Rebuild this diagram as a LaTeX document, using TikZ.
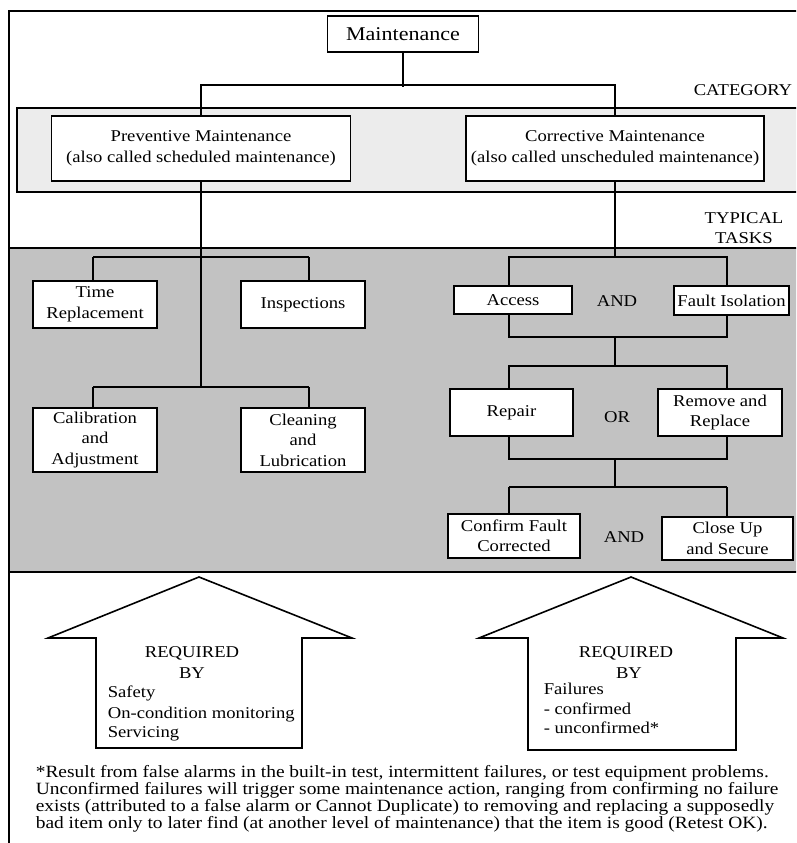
\documentclass[tikz,border=0pt]{standalone}
\usepackage{fontspec}
\setmainfont{Liberation Serif}[FakeStretch=1.13]
\definecolor{catfill}{RGB}{236,236,236}
\definecolor{taskfill}{RGB}{194,194,194}
\begin{document}
\begin{tikzpicture}[x=1pt,y=-1pt,line width=1.6pt,
  box/.style={draw=black,fill=white,line width=1.6pt,inner sep=0pt,align=center,
              font=\fontsize{16.5}{20.5}\selectfont},
  lbl/.style={inner sep=0pt,align=center,font=\fontsize{16.5}{20}\selectfont},
  item/.style={inner sep=0pt,anchor=base west,font=\fontsize{16.5}{20}\selectfont},
  note/.style={inner sep=0pt,anchor=base west,font=\fontsize{17.2}{17}\selectfont},
  wire/.style={draw=black,line width=1.6pt},
  bigarrow/.style={draw=black,fill=white,line width=1.6pt,line join=miter}]
\useasboundingbox (0,0) rectangle (796,843);
\clip (0,0) rectangle (796,843);
\fill[white] (0,0) rectangle (796,843);

% section bands
\filldraw[fill=catfill,line width=1.6pt] (17,108) rectangle (820,192);
\filldraw[fill=taskfill,line width=1.6pt] (9,248) rectangle (820,572);
\draw[line width=1.6pt] (9,860) -- (9,11) -- (820,11);

% side labels
\node[lbl] (catlbl) at (743,90) {CATEGORY};
\node[lbl] (tasklbl) at (744,228) {TYPICAL\\TASKS};

% top level
\node[box,minimum width=151,minimum height=36,font=\fontsize{19.5}{22}\selectfont] (mnt) at (403,34) {Maintenance};
\node[box,minimum width=299,minimum height=65] (pm) at (201,148.5)
  {Preventive Maintenance\\(also called scheduled maintenance)};
\node[box,minimum width=298,minimum height=65] (cm) at (615,148.5)
  {Corrective Maintenance\\(also called unscheduled maintenance)};

\draw[wire] (mnt.south) -- ++(0,34);
\draw[wire] (pm.north) -- ++(0,-30) -| (cm.north);

% preventive tasks
\coordinate (pa1) at (93,257);
\coordinate (pa2) at (309,257);
\coordinate (pb1) at (93,387);
\coordinate (pb2) at (309,387);
\draw[wire] (pm.south) -- (pm.south |- pb1);
\draw[wire] (pa1) -- (pa2);
\draw[wire] (pb1) -- (pb2);

\node[box,minimum width=124,minimum height=47] (tr) at (95,304.5) {Time\\Replacement};
\node[box,minimum width=124,minimum height=47] (ins) at (303,304.5) {Inspections};
\node[box,minimum width=124,minimum height=64] (cal) at (95,440) {Calibration\\and\\Adjustment};
\node[box,minimum width=124,minimum height=64] (cln) at (303,440) {Cleaning\\and\\Lubrication};

\draw[wire] (pa1) -- (pa1 |- tr.north);
\draw[wire] (pa2) -- (pa2 |- ins.north);
\draw[wire] (pb1) -- (pb1 |- cal.north);
\draw[wire] (pb2) -- (pb2 |- cln.north);

% corrective tasks
\coordinate (ca1) at (509,257);
\coordinate (ca2) at (727,337);
\coordinate (cb1) at (509,366);
\coordinate (cb2) at (727,459);
\coordinate (cc1) at (509,487);
\coordinate (cc2) at (727,487);
\draw[wire] (cm.south) -- (cm.south |- ca1);
\draw[wire] (ca1) rectangle (ca2);
\draw[wire] (cm.south |- ca2) -- (cm.south |- cb1);
\draw[wire] (cb1) rectangle (cb2);
\draw[wire] (cm.south |- cb2) -- (cm.south |- cc1);
\draw[wire] (cc1) -- (cc2);

\node[box,minimum width=118,minimum height=28] (acc) at (513,300) {Access};
\node[box,minimum width=115,minimum height=29] (fi) at (731.5,300.5) {Fault Isolation};
\node[lbl] (and1) at (617,301) {AND};

\node[box,minimum width=123,minimum height=47] (rep) at (511.5,412.5) {Repair};
\node[box,minimum width=124,minimum height=47] (rr) at (720,412.5) {Remove and\\Replace};
\node[lbl] (or1) at (617,417) {OR};

\node[box,minimum width=132,minimum height=44] (cf) at (514,536) {Confirm Fault\\Corrected};
\node[box,minimum width=131,minimum height=43] (cu) at (727.5,538.5) {Close Up\\and Secure};
\node[lbl] (and2) at (624,537) {AND};

\draw[wire] (cc1) -- (cc1 |- cf.north);
\draw[wire] (cc2) -- (cc2 |- cu.north);

% "required by" arrows
\draw[bigarrow] (96,748) -- (96,638) -- (48,638) -- (199,577) -- (352,638) -- (302,638) -- (302,748) -- cycle;
\draw[bigarrow] (528,750) -- (528,638) -- (479,638) -- (631,577) -- (783,638) -- (736,638) -- (736,750) -- cycle;

\node[lbl] (req1) at (192,653) {REQUIRED};
\node[lbl] (by1) at (192,673) {BY};
\node[item] (s1) at (107,697) {Safety};
\node[item] (s2) at (107,718) {On-condition monitoring};
\node[item] (s3) at (107,737) {Servicing};

\node[lbl] (req2) at (626,653) {REQUIRED};
\node[lbl] (by2) at (629,673) {BY};
\node[item] (f1) at (543,694) {Failures};
\node[item] (f2) at (543,714) {- confirmed};
\node[item] (f3) at (543,733) {- unconfirmed*};

% footnote
\node[note] (fn1) at (35,777) {*Result from false alarms in the built-in test, intermittent failures, or test equipment problems.};
\node[note] (fn2) at (35,794) {Unconfirmed failures will trigger some maintenance action, ranging from confirming no failure};
\node[note] (fn3) at (35,811) {exists (attributed to a false alarm or Cannot Duplicate) to removing and replacing a supposedly};
\node[note] (fn4) at (35,828) {bad item only to later find (at another level of maintenance) that the item is good (Retest OK).};
\end{tikzpicture}
\end{document}
